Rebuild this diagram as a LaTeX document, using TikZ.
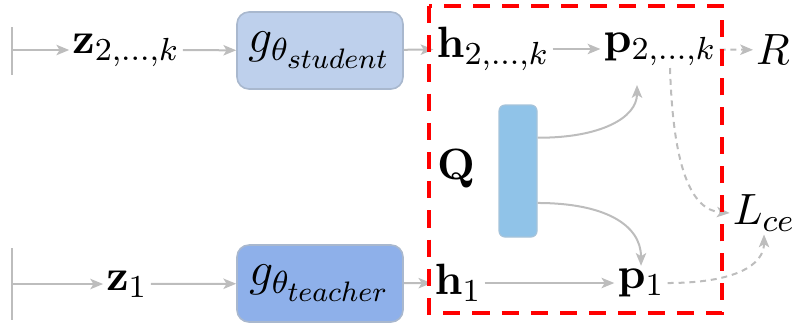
\documentclass[tikz,border=0pt]{standalone}
\usepackage{graphicx}
\usetikzlibrary{arrows.meta,calc}
\DeclareMathSizes{10.5}{10.5}{8.2}{6}
\DeclareMathSizes{12}{12}{8.4}{7}
\definecolor{lngray}{HTML}{BDBDBD}
\definecolor{boxedge}{HTML}{A9B8CE}
\definecolor{studfill}{HTML}{BED0EC}
\definecolor{teachfill}{HTML}{8EB0EA}
\definecolor{qfill}{HTML}{90C3E8}
\definecolor{qedge}{HTML}{A6C3DA}
\newcommand{\subsc}[1]{\scalebox{0.88}{$\scriptstyle #1$}}
\begin{document}
\begin{tikzpicture}[x=0.25pt,y=-0.25pt,
  txt/.style={inner sep=0.6pt, font=\fontsize{10.5}{12}\selectfont},
  fbox/.style={draw=boxedge, rounded corners=3pt, minimum width=41.5pt, minimum height=19.25pt, inner sep=0pt, line width=0.4pt, font=\fontsize{12}{14}\selectfont},
  qbar/.style={draw=qedge, fill=qfill, rounded corners=1.5pt, line width=0.3pt, minimum width=9.5pt, minimum height=33pt, inner sep=0pt},
  conn/.style={draw=lngray, line width=0.5pt, -{Stealth[length=3.2pt,width=2.6pt,inset=0.8pt]}},
  dconn/.style={conn, dash pattern=on 1.5pt off 1.2pt},
  tick/.style={draw=lngray, line width=0.5pt},
]
\useasboundingbox (0,0) rectangle (798,323);

% top row
\coordinate (in2) at (12,50);
\node[txt] (z2k) at (126,50) {$\mathbf{z}_{2,\ldots,k}$};
\node[fbox, fill=studfill] (stud) at (320,50.5) {$g_{\theta_{\subsc{student}}}$};
\node[txt] (h2k) at (493,49) {$\mathbf{h}_{2,\ldots,k}$};
\node[txt] (p2k) at (660,49) {$\mathbf{p}_{2,\ldots,k}$};
\node[txt] (R) at (773,50) {$R$};

% bottom row
\coordinate (in1) at (12,284);
\node[txt] (z1) at (127,284) {$\mathbf{z}_1$};
\node[fbox, fill=teachfill] (teach) at (320,283.5) {$g_{\theta_{\subsc{teacher}}}$};
\node[txt] (h1) at (458,283) {$\mathbf{h}_1$};
\node[txt] (p1) at (641,283) {$\mathbf{p}_1$};
\node[txt] (Lce) at (764,213) {$L_{ce}$};

% Q
\node[qbar] (Qr) at (518,171) {};
\node[txt] (Q) at (456,169) {$\mathbf{Q}$};
\coordinate (qa) at ($(Qr.north east)!0.25!(Qr.south east)$);
\coordinate (qb) at ($(Qr.north east)!0.74!(Qr.south east)$);
\coordinate (qaend) at (637,85);
\coordinate (p2kd) at (670,68);

% ticks
\draw[tick] (in2) ++(0,-23) -- ++(0,48);
\draw[tick] (in1) ++(0,-36) -- ++(0,72);

% connectors
\draw[conn] (in2) -- (z2k);
\draw[conn] (z2k) -- (stud);
\draw[conn] (stud) -- (h2k);
\draw[conn] (h2k) -- (p2k);
\draw[dconn] (p2k) -- (R);

\draw[conn] (in1) -- (z1);
\draw[conn] (z1) -- (teach);
\draw[conn] (teach) -- (h1);
\draw[conn] (h1) -- (p1);

\draw[conn] (qa) .. controls (600,138) and (637,118) .. (qaend);
\draw[conn] (qb) .. controls (605,203) and (641,225) .. (p1.north);

\draw[dconn] (p2kd) .. controls (673,165) and (690,210) .. (Lce.west);
\draw[dconn] (p1.east) .. controls (735,283) and (764,265) .. (Lce.south);

% red dashed frame
\draw[red, line width=1pt, dash pattern=on 4.3pt off 3pt] (429,6) rectangle (722,313);
\end{tikzpicture}
\end{document}
